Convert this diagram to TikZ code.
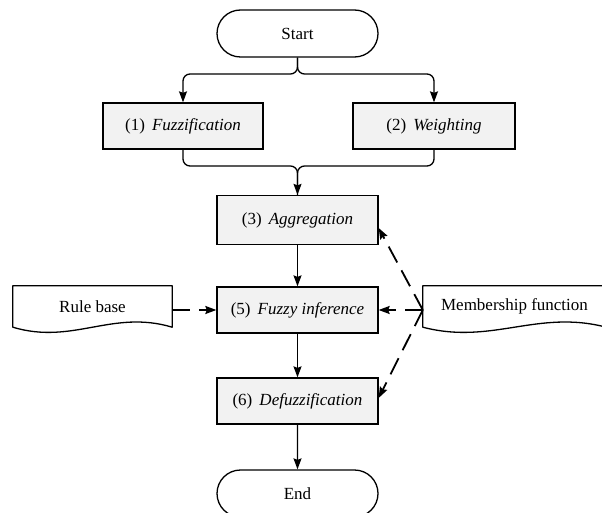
\documentclass[tikz,border=0pt]{standalone}
\usepackage{fontspec}
\setmainfont{Liberation Serif}
\usetikzlibrary{arrows.meta,calc,shapes.misc}
\definecolor{boxgray}{HTML}{F2F2F2}

\begin{document}
\begin{tikzpicture}[x=1pt,y=-1pt,
  font=\fontsize{17pt}{20pt}\selectfont,
  outline/.style={line width=1.3pt, draw=black, line join=round},
  terminal/.style={rounded rectangle, draw, line width=1.3pt,
    minimum width=161pt, minimum height=47pt, inner sep=0pt},
  process/.style={rectangle, draw, line width=1.3pt, fill=boxgray,
    minimum width=161pt, minimum height=47pt, inner sep=0pt},
  docbox/.style={rectangle, minimum height=41pt, inner sep=0pt},
  wire/.style={line width=1.3pt},
  flow/.style={wire, -{Stealth[length=11pt,width=8pt,inset=1.5pt]}},
  feed/.style={flow, line width=1.8pt, dash pattern=on 18pt off 9pt},
]
\useasboundingbox (0,0) rectangle (602,513);

% main chain
\node[terminal] (start) at (297.5,33.5) {Start};
\node[process, minimum width=160pt, minimum height=46pt] (fuzz) at (183,126) {(1)\, \textit{Fuzzification}};
\node[process, minimum width=162pt, minimum height=46pt] (wgt) at (434,126) {(2)\, \textit{Weighting}};
\node[process, minimum height=49pt] (agg) at (297.5,220) {(3)\, \textit{Aggregation}};
\node[process, minimum height=46pt] (inf) at (297.5,310) {(5)\, \textit{Fuzzy inference}};
\node[process, minimum height=46pt] (defz) at (297.5,401) {(6)\, \textit{Defuzzification}};
\node[terminal] (end) at (297.5,493.5) {End};

% knowledge sources
\node[docbox, minimum width=159pt] (rule) at (92.5,306.5) {Rule base};
\node[docbox, minimum width=183pt] (mf) at (514.5,306.5) {Membership function};
\draw[outline] (rule.south west) -- (rule.north west) -- (rule.north east) -- (rule.south east)
  .. controls ($(rule.south east)+(-60,-18)$) and ($(rule.south west)+(60,18)$) .. (rule.south west) -- cycle;
\draw[outline] (mf.south west) -- (mf.north west) -- (mf.north east) -- (mf.south east)
  .. controls ($(mf.south east)+(-69,-18)$) and ($(mf.south west)+(69,18)$) .. (mf.south west) -- cycle;

% split and merge
\coordinate (split) at (297.5,74);
\coordinate (join) at (297.5,166);
\draw[flow, rounded corners=7pt] (start.south) -- (split) -| (fuzz.north);
\draw[flow, rounded corners=7pt] (start.south) -- (split) -| (wgt.north);
\draw[wire, rounded corners=7pt] (wgt.south) |- (join) -- (agg.north);
\draw[flow, rounded corners=7pt] (fuzz.south) |- (join) -- (agg.north);

\draw[flow] (agg) -- (inf);
\draw[flow] (inf) -- (defz);
\draw[flow] (defz) -- (end);

% dashed feeds
\draw[feed] (rule.east |- inf.west) -- (inf.west);
\draw[feed] (mf.west |- inf.east) -- (inf.east);
\draw[feed] (mf.west |- inf.east) -- ([yshift=-8pt]agg.east);
\draw[feed] (mf.west |- inf.east) -- ([yshift=3pt]defz.east);
\end{tikzpicture}
\end{document}
